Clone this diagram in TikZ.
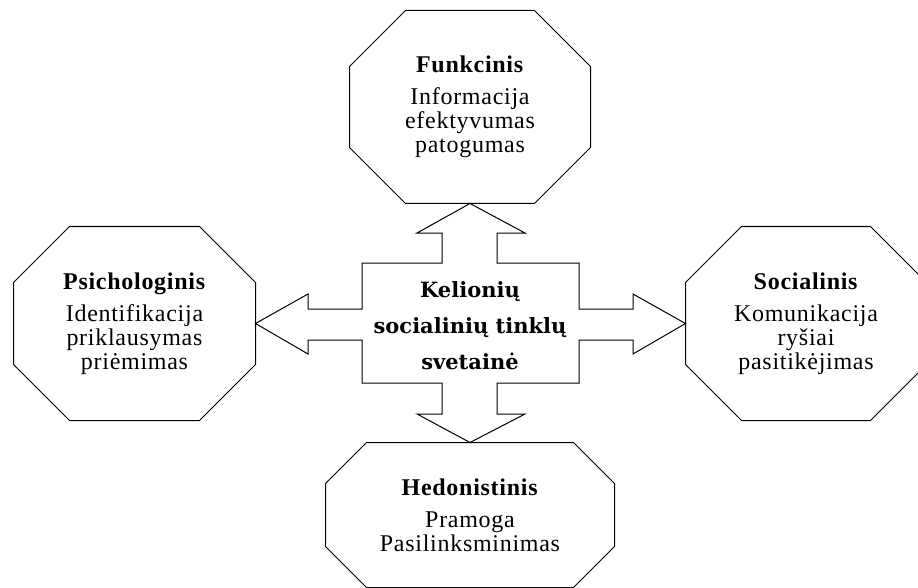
\documentclass[tikz,border=0pt]{standalone}
\usepackage{fontspec}
\setmainfont{Liberation Serif}[LetterSpace=3]
\newfontfamily\hubfont{DejaVu Serif}
\usetikzlibrary{calc}

% octagon drawn round a named node, #2 = size of the cut corners
\newcommand\octframe[2]{%
  \draw ($(#1.north west)+(#2,0)$) -- ($(#1.north east)+(-#2,0)$)
    -- ($(#1.north east)+(0,#2)$) -- ($(#1.south east)+(0,-#2)$)
    -- ($(#1.south east)+(-#2,0)$) -- ($(#1.south west)+(#2,0)$)
    -- ($(#1.south west)+(0,-#2)$) -- ($(#1.north west)+(0,#2)$) -- cycle;}

\begin{document}
\begin{tikzpicture}[x=1pt,y=-1pt,line width=1pt,
  octa/.style={rectangle,align=center,inner sep=0pt,
    font=\fontsize{24}{24}\selectfont},
  hubtext/.style={align=center,font={\hubfont\bfseries\fontsize{21}{36}\selectfont}}]
  \useasboundingbox (0,0) rectangle (918,588);
  \clip (0,0) rectangle (918,588);
  % the four kinds of value
  \node[octa,minimum width=240pt,minimum height=192pt]
    (func) at (470,107) {\textbf{Funkcinis}\\[8pt]Informacija\\efektyvumas\\patogumas};
  \node[octa,minimum width=241pt,minimum height=193pt]
    (psy) at (134.5,323.5) {\textbf{Psichologinis}\\[8pt]Identifikacija\\priklausymas\\priėmimas};
  \node[octa,minimum width=240pt,minimum height=193pt]
    (soc) at (806,323.5) {\textbf{Socialinis}\\[8pt]Komunikacija\\ryšiai\\pasitikėjimas};
  \node[octa,minimum width=288pt,minimum height=144pt]
    (hed) at (470,515) {\textbf{Hedonistinis}\\[8pt]Pramoga\\Pasilinksminimas};
  \octframe{func}{56}
  \octframe{psy}{56}
  \octframe{soc}{56}
  \octframe{hed}{41}
  % the site in the middle, with its four arrows
  \node[hubtext] (hub) at (470,326) {Kelionių\\socialinių tinklų\\svetainė};
  \draw (func.south) -- (525,233) -- (497,233) -- (497,263) -- (579,263)
    -- (579,309) -- (633,309) -- (633,294) -- (soc.west) -- (633,354)
    -- (633,340) -- (579,340) -- (579,383) -- (497,383) -- (497,414)
    -- (525,414) -- (hed.north) -- (417,414) -- (442,414) -- (442,383)
    -- (362,383) -- (362,340) -- (308,340) -- (308,354) -- (psy.east)
    -- (308,294) -- (308,309) -- (362,309) -- (362,263) -- (442,263)
    -- (442,233) -- (417,233) -- cycle;
\end{tikzpicture}
\end{document}
